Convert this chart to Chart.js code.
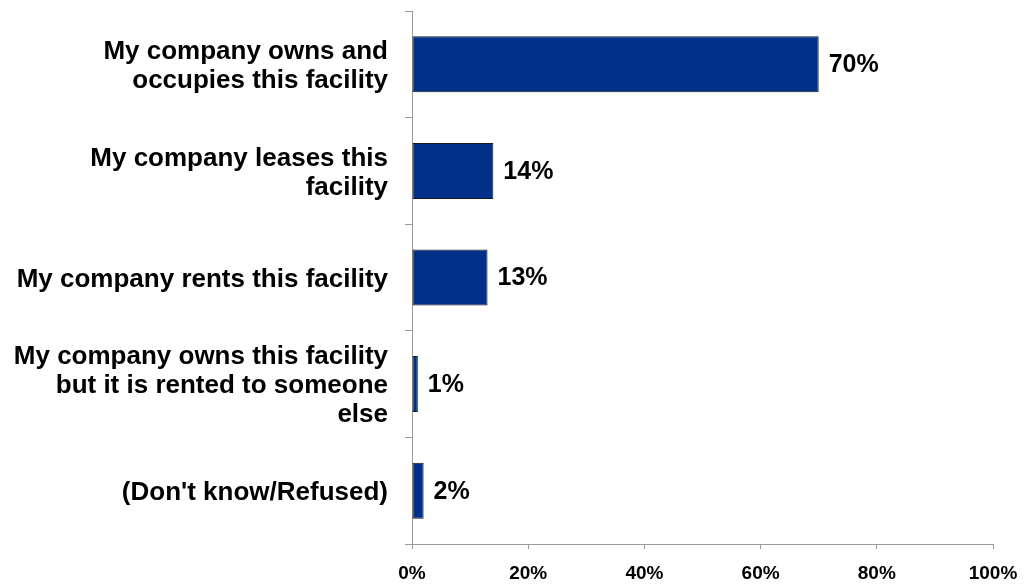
<!DOCTYPE html>
<html>
<head>
<meta charset="utf-8">
<script src="https://cdn.jsdelivr.net/npm/chart.js@4/dist/chart.umd.min.js"></script>
<style>
  html, body { margin: 0; padding: 0; background: #fff; }
  #wrap { width: 1024px; height: 586px; }
</style>
</head>
<body>
<div id="wrap"><canvas id="facilityChart" width="1024" height="586"></canvas></div>
<script>
// --- data ---
const categories = [
  ['My company owns and', 'occupies this facility'],
  ['My company leases this', 'facility'],
  ['My company rents this facility'],
  ['My company owns this facility', 'but it is rented to someone', 'else'],
  ["(Don't know/Refused)"]
];
const shares = [70, 14, 13, 1, 2];
const xTicks = [0, 20, 40, 60, 80, 100];

const FONT = '"Liberation Sans", Arial, sans-serif';

// value labels drawn just past the end of each bar
const barValueLabels = {
  id: 'barValueLabels',
  afterDatasetsDraw(chart) {
    const ctx = chart.ctx;
    const meta = chart.getDatasetMeta(0);
    ctx.save();
    ctx.font = 'bold 25px ' + FONT;
    ctx.fillStyle = '#000';
    ctx.textAlign = 'left';
    ctx.textBaseline = 'middle';
    meta.data.forEach((bar, i) => {
      ctx.fillText(shares[i] + '%', bar.x + 10, bar.y + 1);
    });
    ctx.restore();
  }
};

new Chart(document.getElementById('facilityChart'), {
  type: 'bar',
  data: {
    labels: categories,
    datasets: [{
      data: shares,
      backgroundColor: '#003087',
      borderColor: '#1a1a1a',
      borderWidth: 1,
      borderSkipped: false,
      categoryPercentage: 1,
      barPercentage: 0.525
    }]
  },
  options: {
    indexAxis: 'y',
    responsive: false,
    animation: false,
    layout: { padding: { top: 11, right: 31, left: 0, bottom: 0 } },
    plugins: { legend: { display: false }, tooltip: { enabled: false } },
    scales: {
      x: {
        min: 0,
        max: 100,
        afterBuildTicks: (scale) => { scale.ticks = xTicks.map(v => ({ value: v })); },
        afterFit: (scale) => {
          scale.height = 42;
          scale.paddingLeft = 0;
          scale.paddingRight = 0;
        },
        border: { color: '#999', width: 1 },
        grid: { drawOnChartArea: false, drawTicks: true, tickLength: 5, color: '#999' },
        ticks: {
          callback: (v) => v + '%',
          color: '#000',
          padding: 13,
          maxRotation: 0,
          font: { family: FONT, size: 19, weight: 'bold' }
        }
      },
      y: {
        afterFit: (scale) => {
          scale.width = 412;
          scale.paddingTop = 0;
          scale.paddingBottom = 0;
        },
        border: { color: '#999', width: 1 },
        grid: { drawOnChartArea: false, drawTicks: true, tickLength: 7, color: '#999' },
        ticks: {
          color: '#000',
          padding: 17,
          crossAlign: 'near',
          labelOffset: 2,
          font: { family: FONT, size: 26, weight: 'bold', lineHeight: 1.12 }
        }
      }
    }
  },
  plugins: [barValueLabels]
});
</script>
</body>
</html>
